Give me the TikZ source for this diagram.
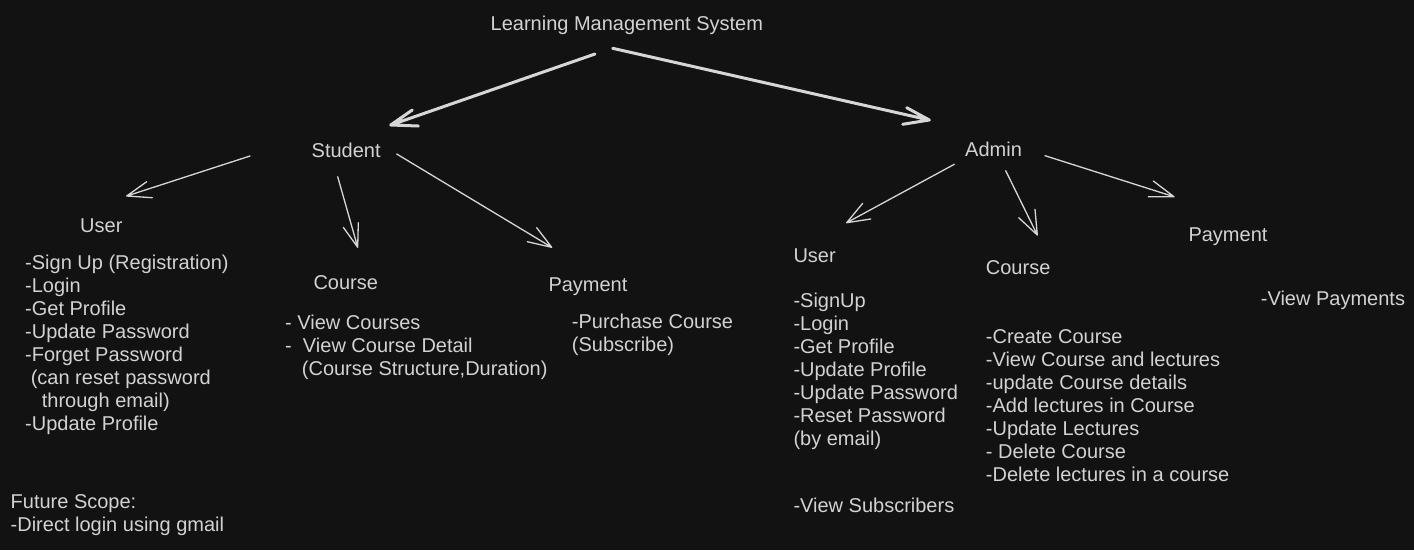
\documentclass[tikz,border=0pt]{standalone}
\usepackage{fontspec}
\setmainfont{Liberation Sans}
\definecolor{bg}{HTML}{121212}
\definecolor{fg}{HTML}{D2D2D2}
\definecolor{ln}{HTML}{D6D6D6}
\begin{document}
\begin{tikzpicture}[x=1pt,y=-1pt,
  txt/.style={anchor=base west,inner sep=0pt,text=fg,align=left,font=\fontsize{20}{23}\selectfont},
  thick arrow/.style={draw=ln,line width=3pt,line cap=round,line join=round},
  thin arrow/.style={draw=ln,line width=1.3pt,line cap=round,line join=round}]
\fill[bg] (0,0) rectangle (1414,550);
\useasboundingbox (0,0) rectangle (1414,550);

% headers
\node[txt] (lms) at (490.5,30) {Learning Management System};
\node[txt] (student) at (311.5,157) {Student};
\node[txt] (admin) at (965,156) {Admin};
\node[txt] (suser) at (80,232) {User};
\node[txt] (scourse) at (313.3,289.3) {Course};
\node[txt] (spay) at (548.3,291.7) {Payment};
\node[txt] (auser) at (793.3,262.3) {User};
\node[txt] (acourse) at (985.7,274.3) {Course};
\node[txt] (apay) at (1188.3,241.7) {Payment};

% lists (anchored at the baseline of their last line)
\node[txt] (suserlist) at (25,430.5) {-Sign Up (Registration)\\-Login\\-Get Profile\\-Update Password\\-Forget Password\\\hspace*{5.6pt}(can reset password\\\hspace*{16.7pt}through email)\\-Update Profile};
\node[txt] (scourselist) at (285,375) {- View Courses\\-\hspace*{11.1pt}View Course Detail\\\hspace*{16.7pt}(Course Structure,Duration)};
\node[txt] (spaylist) at (571.7,351.3) {-Purchase Course\\(Subscribe)};
\node[txt] (auserlist) at (793.3,445.7) {-SignUp\\-Login\\-Get Profile\\-Update Profile\\-Update Password\\-Reset Password\\(by email)};
\node[txt] (asubs) at (793.3,512.8) {-View Subscribers};
\node[txt] (acourselist) at (985.7,481.3) {-Create Course\\-View Course and lectures\\-update Course details\\-Add lectures in Course\\-Update Lectures\\- Delete Course\\-Delete lectures in a course};
\node[txt] (apaylist) at (1260.7,305) {-View Payments};
\node[txt] (future) at (10.5,531.3) {Future Scope:\\-Direct login using gmail};

% arrow coordinates
\coordinate (l1s) at (595,54);   \coordinate (l1t) at (390.7,125);
\coordinate (l1a) at (412.3,110);\coordinate (l1b) at (418.3,126);
\coordinate (l2s) at (612.7,48.3);\coordinate (l2t) at (929.3,120);
\coordinate (l2a) at (906.7,107.7);\coordinate (l2b) at (902.7,124.3);

\coordinate (s1s) at (250,156);  \coordinate (s1t) at (126.7,196);
\coordinate (s1a) at (146.7,181.7);\coordinate (s1b) at (152.3,197.7);
\coordinate (s2s) at (337.7,176.7);\coordinate (s2t) at (357.7,247.3);
\coordinate (s2a) at (343.3,227.3);\coordinate (s2b) at (358.3,222.7);
\coordinate (s3s) at (396.7,154);\coordinate (s3t) at (551.7,247.3);
\coordinate (s3a) at (527.3,241.7);\coordinate (s3b) at (536.7,227.7);

\coordinate (a1s) at (954.3,164.3);\coordinate (a1t) at (846.7,222.7);
\coordinate (a1a) at (862.7,203.3);\coordinate (a1b) at (870.7,219);
\coordinate (a2s) at (1005.7,170.7);\coordinate (a2t) at (1037.3,235);
\coordinate (a2a) at (1018.7,217.7);\coordinate (a2b) at (1035,209.3);
\coordinate (a3s) at (1045,155.7);\coordinate (a3t) at (1174,196.7);
\coordinate (a3a) at (1153.3,181);\coordinate (a3b) at (1148.3,196.7);

\draw[thick arrow] (l1s) -- (l1t) (l1a) -- (l1t) -- (l1b);
\draw[thick arrow] (l2s) -- (l2t) (l2a) -- (l2t) -- (l2b);
\foreach \a in {s1,s2,s3,a1,a2,a3}{
  \draw[thin arrow] (\a s) -- (\a t) (\a a) -- (\a t) -- (\a b);
}
\end{tikzpicture}
\end{document}
